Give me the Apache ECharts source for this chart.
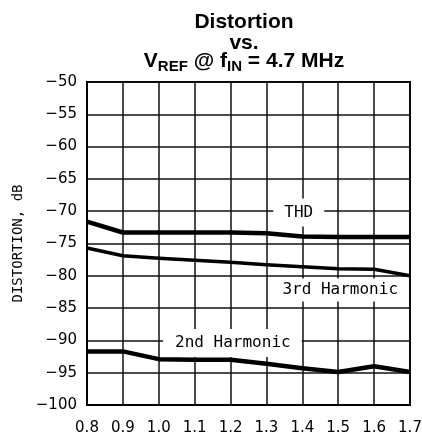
<!DOCTYPE html>
<html>
<head>
<meta charset="utf-8">
<script src="https://cdn.jsdelivr.net/npm/echarts@6/dist/echarts.min.js"></script>
<style>
  html, body { margin: 0; padding: 0; background: #fff; }
  #chart { width: 422px; height: 434px; }
</style>
</head>
<body>
<div id="chart"></div>
<script>
// Reference voltage (V) on the x axis
const vref = [0.8, 0.9, 1.0, 1.1, 1.2, 1.3, 1.4, 1.5, 1.6, 1.7];

// Distortion in dB for each curve
const thd = [-71.6, -73.3, -73.3, -73.3, -73.3, -73.4, -73.9, -74.0, -74.0, -74.0];
const harmonic3 = [-75.7, -76.9, -77.3, -77.6, -77.9, -78.3, -78.6, -78.9, -79.0, -80.0];
const harmonic2 = [-91.7, -91.7, -92.9, -93.0, -93.0, -93.6, -94.3, -94.9, -94.0, -94.9];

// Curve labels: [text, x, y] in data units
const curveLabels = [
  ['THD', 1.39, -70.2],
  ['3rd Harmonic', 1.5, -82.2],
  ['2nd Harmonic', 1.205, -90.4]
];

const mono = '"DejaVu Sans Mono", "Liberation Mono", monospace';
const sans = '"DejaVu Sans", "Liberation Sans", sans-serif';
const titleFont = '"Liberation Sans", Arial, sans-serif';

function pairs(ys) {
  return vref.map((x, i) => [x, ys[i]]);
}

function labelPoint(entry, pad) {
  return {
    coord: [entry[1], entry[2]],
    symbolSize: 0,
    label: {
      show: true,
      position: 'inside',
      formatter: entry[0],
      fontFamily: mono,
      fontSize: 16,
      color: '#000',
      backgroundColor: '#fff',
      padding: pad
    }
  };
}

const chart = echarts.init(document.getElementById('chart'), null, { renderer: 'canvas' });

const lineSeries = (name, ys, width, label, pad) => ({
  name: name,
  type: 'line',
  data: pairs(ys),
  showSymbol: false,
  symbol: 'none',
  lineStyle: { color: '#000', width: width, join: 'round' },
  silent: true,
  animation: false,
  markPoint: {
    symbol: 'circle',
    silent: true,
    animation: false,
    data: [labelPoint(label, pad)]
  },
  z: 3
});

const titleText = { fontFamily: titleFont, fontWeight: 'bold', fontSize: 21, color: '#000', lineHeight: 22 };

chart.setOption({
  backgroundColor: '#fff',
  animation: false,
  title: [
    { text: 'Distortion', left: 244, top: 11, padding: 0, textAlign: 'center', textStyle: titleText },
    { text: 'vs.', left: 244, top: 32, padding: 0, textAlign: 'center', textStyle: titleText },
    {
      text: '{m|V}{s|REF}{m| @ f}{s|IN}{m| = 4.7 MHz}',
      left: 244, top: 49, padding: 0, textAlign: 'center',
      textStyle: {
        rich: {
          m: { fontFamily: titleFont, fontWeight: 'bold', fontSize: 21, color: '#000', lineHeight: 24 },
          s: { fontFamily: titleFont, fontWeight: 'bold', fontSize: 15, color: '#000', lineHeight: 24, padding: [12, 0, 0, 0] }
        }
      }
    }
  ],
  grid: {
    left: 87, right: 12, top: 82, bottom: 29, containLabel: false,
    outerBoundsMode: 'none',
    show: true, borderColor: '#000', borderWidth: 2, backgroundColor: 'transparent'
  },
  xAxis: {
    type: 'value',
    min: 0.8, max: 1.7, interval: 0.1,
    axisLine: { show: true, lineStyle: { color: '#000', width: 2 } },
    axisTick: { show: false },
    splitLine: { show: true, lineStyle: { color: '#111', width: 1.5 } },
    axisLabel: {
      margin: 16,
      fontFamily: sans, fontSize: 15, color: '#000',
      formatter: v => v.toFixed(1)
    }
  },
  yAxis: {
    type: 'value',
    min: -100, max: -50, interval: 5,
    name: 'DISTORTION, dB',
    nameLocation: 'middle',
    nameGap: 58,
    nameTextStyle: { fontFamily: mono, fontSize: 14, color: '#000' },
    axisLine: { show: true, lineStyle: { color: '#000', width: 2 } },
    axisTick: { show: false },
    splitLine: { show: true, lineStyle: { color: '#111', width: 1.5 } },
    axisLabel: {
      margin: 10,
      fontFamily: sans, fontSize: 15, color: '#000',
      formatter: v => String(v).replace('-', '\u2212')
    }
  },
  series: [
    lineSeries('THD', thd, 4.5, curveLabels[0], [6, 11, 6, 11]),
    lineSeries('3rd Harmonic', harmonic3, 3.5, curveLabels[1], [3, 8, 4, 12]),
    lineSeries('2nd Harmonic', harmonic2, 4.5, curveLabels[2], [6, 11, 6, 12])
  ]
});
</script>
</body>
</html>
